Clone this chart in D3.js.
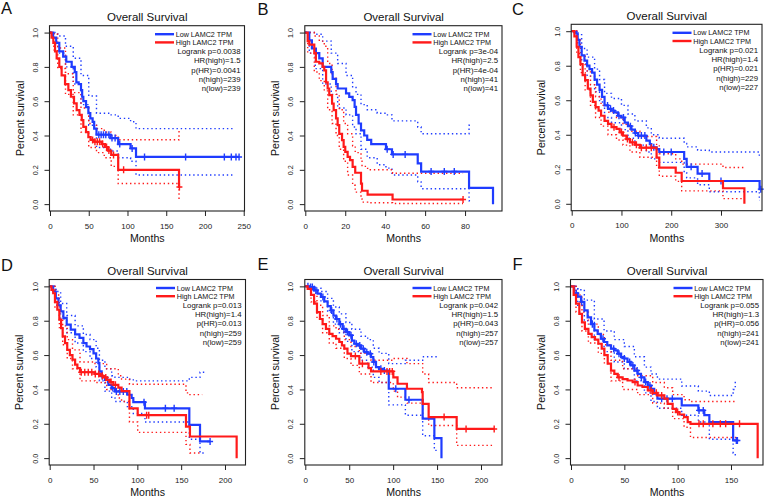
<!DOCTYPE html>
<html><head><meta charset="utf-8">
<script src="https://cdn.jsdelivr.net/npm/d3@7"></script>
<style>body{margin:0;background:#fff} svg{display:block;font-family:"Liberation Sans",Arial,sans-serif}</style>
</head><body><svg id="c" width="767" height="497"></svg>
<script>
// ---------- data ----------
const yTicks = [0, 0.2, 0.4, 0.6, 0.8, 1.0];
const xTicksA = [0, 50, 100, 150, 200, 250];
const xTicksB = [0, 20, 40, 60, 80];
const xTicksC = [0, 100, 200, 300];
const xTicksD = [0, 50, 100, 150, 200];
const xTicksE = [0, 50, 100, 150, 200];
const xTicksF = [0, 50, 100, 150];
const legendLabels = ["Low LAMC2 TPM", "High LAMC2 TPM"];

const statsA = ["Logrank p=0.0038","HR(high)=1.5","p(HR)=0.0041","n(high)=239","n(low)=239"];
const statsB = ["Logrank p=3e-04","HR(high)=2.5","p(HR)=4e-04","n(high)=41","n(low)=41"];
const statsC = ["Logrank p=0.021","HR(high)=1.4","p(HR)=0.021","n(high)=229","n(low)=227"];
const statsD = ["Logrank p=0.013","HR(high)=1.4","p(HR)=0.013","n(high)=259","n(low)=259"];
const statsE = ["Logrank p=0.042","HR(high)=1.5","p(HR)=0.043","n(high)=257","n(low)=257"];
const statsF = ["Logrank p=0.055","HR(high)=1.3","p(HR)=0.056","n(high)=241","n(low)=241"];

// KM steps [month, survival after]
const lowA = [[0,1],[4,0.97],[8,0.94],[12,0.89],[17,0.86],[21,0.83],[28,0.80],[32,0.77],[34,0.71],[37,0.70],[40,0.665],[41.5,0.626],[43,0.60],[46.5,0.566],[49.5,0.53],[52,0.50],[55,0.48],[57,0.44],[60,0.405],[78,0.385],[88,0.35],[104,0.325],[111,0.275],[244,0.275]];
const highA = [[0,1],[2,0.97],[4.3,0.94],[6.5,0.89],[8.6,0.85],[12,0.80],[15,0.75],[19.4,0.70],[23.7,0.665],[27,0.626],[31,0.587],[34.4,0.548],[38,0.52],[41,0.49],[43,0.45],[46.5,0.42],[49.5,0.39],[52.5,0.374],[56,0.364],[67,0.35],[71,0.333],[75,0.312],[79,0.287],[88,0.20],[166.5,0.10],[168,0.10]];
const censLowA = [63,66,69,72,76,80,84,90,106,122,175,225,234,240,244];
const censHighA = [55,58,61,64,68,73,76,82,95,167];
// confidence bands [month, lower, upper]
const ciLowA = [[0,1,1],[5,0.93,1],[10,0.88,0.98],[20,0.80,0.92],[30,0.70,0.85],[40,0.58,0.75],[50,0.46,0.63],[60,0.33,0.53],[78,0.31,0.52],[88,0.27,0.50],[104,0.25,0.48],[111,0.17,0.44],[237,0.17,0.44]];
const ciHighA = [[0,1,1],[5,0.90,0.99],[10,0.79,0.91],[20,0.64,0.76],[30,0.52,0.65],[40,0.42,0.56],[50,0.33,0.47],[60,0.30,0.44],[70,0.27,0.42],[79,0.22,0.40],[88,0.12,0.375],[166.5,0.03,0.43],[167.5,0.03,0.43]];

const lowB = [[0,1],[2,0.955],[3.3,0.907],[5.3,0.88],[7,0.85],[8.7,0.80],[13,0.77],[13.7,0.73],[15.4,0.70],[16.2,0.674],[20.4,0.645],[22,0.625],[23.7,0.606],[24.7,0.567],[25.4,0.52],[26.7,0.47],[27.9,0.43],[29.5,0.40],[31,0.375],[33,0.35],[40.4,0.32],[43.4,0.29],[56.3,0.237],[58,0.19],[82,0.095],[94,0]];
const highB = [[0,1],[1.2,0.95],[2,0.93],[4.5,0.88],[5.3,0.83],[7,0.82],[8.7,0.80],[9.5,0.78],[10.4,0.71],[11.2,0.674],[12,0.635],[13.4,0.586],[14.2,0.548],[15.4,0.50],[16.2,0.46],[17,0.41],[18.4,0.373],[19.2,0.334],[20,0.305],[21.2,0.276],[22.4,0.256],[23.7,0.217],[25,0.183],[27.9,0.12],[28.4,0.078],[31.2,0.056],[43.7,0.027],[79,0.027]];
const censLowB = [41,44,50,63,69.6,74.6];
const censHighB = [79];
const ciLowB = [[0,1,1],[2,0.88,1],[5,0.79,0.99],[8.7,0.70,0.95],[13,0.64,0.88],[16.2,0.56,0.82],[20.4,0.52,0.75],[23.7,0.45,0.68],[25.4,0.41,0.64],[27.9,0.32,0.58],[31,0.27,0.55],[36,0.23,0.53],[40.4,0.21,0.52],[43.4,0.17,0.485],[56.3,0.13,0.45],[58,0.09,0.41],[82,0.02,0.46],[82.5,0.02,0.46]];
const ciHighB = [[0,1,1],[1.2,0.88,1],[4.5,0.77,0.98],[7,0.72,0.95],[9.5,0.66,0.92],[11.2,0.55,0.82],[13.4,0.47,0.74],[15.4,0.40,0.64],[17,0.32,0.55],[19.2,0.25,0.47],[21.2,0.17,0.41],[23.7,0.11,0.34],[25,0.07,0.30],[27.9,0.03,0.25],[28.4,0.012,0.22],[31.2,0.008,0.20],[43.7,0.004,0.18],[79,0.004,0.18]];

const lowC = [[0,1],[5,0.995],[9,0.988],[12,0.95],[15.5,0.91],[20,0.86],[25.6,0.83],[31,0.80],[35.7,0.78],[41,0.76],[46,0.72],[51,0.69],[56,0.66],[61,0.62],[66,0.57],[73,0.55],[80,0.54],[86,0.53],[93,0.51],[100,0.50],[106.5,0.47],[113,0.45],[120,0.43],[127,0.41],[133.5,0.395],[150,0.366],[157,0.346],[160,0.327],[170.6,0.317],[176,0.30],[226,0.26],[231,0.214],[253,0.175],[276.5,0.132],[377.6,0.085],[380,0.085]];
const highC = [[0,1],[5.4,0.97],[10,0.91],[13.5,0.85],[17.5,0.81],[22,0.745],[27,0.716],[32.4,0.667],[37.8,0.628],[42.5,0.59],[48,0.56],[54,0.54],[59,0.51],[66,0.48],[73,0.463],[80,0.444],[90,0.434],[96.4,0.414],[103,0.395],[110,0.375],[117,0.356],[127,0.342],[137,0.325],[170.6,0.268],[176,0.21],[209,0.18],[221,0.132],[304,0.09],[347,0]];
const censLowC = [72,78,84,95,104,118,128,134,140,147,165,185,200,240,262,300,380];
const censHighC = [85,100,112,122,130,140,150,160];
const ciLowC = [[0,1,1],[12,0.91,0.98],[20,0.81,0.90],[31,0.74,0.85],[46,0.65,0.78],[56,0.59,0.72],[66,0.50,0.64],[80,0.47,0.61],[100,0.43,0.57],[113,0.38,0.52],[127,0.34,0.48],[150,0.30,0.44],[160,0.26,0.40],[176,0.24,0.38],[226,0.18,0.35],[231,0.15,0.33],[253,0.11,0.31],[276.5,0.07,0.30],[377,0.02,0.27],[378,0.02,0.27]];
const ciHighC = [[0,1,1],[10,0.87,0.95],[17.5,0.76,0.86],[27,0.66,0.77],[37.8,0.57,0.69],[48,0.50,0.62],[59,0.45,0.57],[73,0.40,0.53],[90,0.37,0.50],[103,0.34,0.46],[117,0.30,0.42],[137,0.27,0.39],[170.6,0.21,0.34],[176,0.16,0.29],[209,0.13,0.26],[221,0.075,0.23],[304,0.03,0.21],[345,0.03,0.21]];

const lowD = [[0,1],[4,0.97],[7,0.93],[10,0.89],[12.5,0.855],[15.6,0.816],[19.4,0.777],[24,0.748],[29,0.72],[34,0.70],[38.4,0.67],[42,0.65],[46,0.635],[50,0.61],[53,0.58],[55.5,0.553],[56.7,0.505],[59.3,0.476],[63,0.456],[67,0.427],[70.7,0.408],[74.5,0.388],[88.6,0.369],[93.5,0.35],[95.4,0.326],[108.7,0.29],[159.3,0.194],[171.5,0.097],[183,0.097]];
const highD = [[0,1],[2,0.98],[4,0.96],[6,0.91],[8.7,0.864],[11,0.806],[13,0.757],[14.8,0.709],[17.5,0.67],[20,0.63],[23,0.60],[26,0.573],[29,0.544],[31.6,0.524],[34.6,0.50],[51.7,0.49],[57.4,0.48],[61,0.47],[65,0.456],[68.8,0.443],[72.6,0.427],[78.3,0.41],[82,0.39],[91,0.29],[100.4,0.25],[155.5,0.184],[160,0.126],[213.3,0]];
const censLowD = [60,66,72,76,80,84,88,107.6,132,142,183];
const censHighD = [36,40,44,48,52,56,60,64,70,75,110.6,113];
const ciLowD = [[0,1,1],[7,0.89,0.97],[12.5,0.81,0.90],[19.4,0.73,0.83],[29,0.67,0.77],[38.4,0.62,0.72],[46,0.58,0.69],[53,0.53,0.64],[56.7,0.45,0.57],[63,0.39,0.52],[70.7,0.35,0.48],[74.5,0.33,0.47],[88.6,0.30,0.46],[95.4,0.26,0.45],[108.7,0.21,0.45],[159.3,0.11,0.47],[171.5,0.03,0.50],[178,0.03,0.50]];
const ciHighD = [[0,1,1],[6,0.87,0.95],[11,0.76,0.86],[14.8,0.66,0.77],[20,0.58,0.69],[26,0.52,0.63],[34.6,0.45,0.56],[51.7,0.44,0.55],[65,0.40,0.52],[78.3,0.35,0.48],[82,0.33,0.46],[91,0.21,0.43],[100.4,0.15,0.43],[155.5,0.08,0.38],[160,0.03,0.37],[174,0.03,0.37]];

const lowE = [[0,1],[4.5,0.996],[10,0.977],[14,0.957],[17.8,0.938],[21.6,0.913],[25.4,0.885],[29,0.86],[32,0.83],[35,0.81],[38.7,0.78],[42.5,0.753],[46.3,0.734],[50,0.715],[53,0.685],[55.8,0.666],[59.6,0.656],[63.4,0.637],[67.2,0.617],[71,0.608],[74.8,0.588],[77.4,0.56],[80.5,0.53],[84,0.52],[88,0.51],[95,0.404],[113.9,0.34],[133.6,0.23],[146.9,0.117],[155,0]];
const highE = [[0,1],[2.7,0.986],[6.5,0.95],[10,0.90],[13.3,0.85],[16.7,0.81],[19.7,0.78],[23.5,0.753],[27.3,0.724],[31,0.71],[35,0.695],[38.7,0.676],[41.7,0.656],[44.4,0.637],[48,0.608],[52,0.594],[61.5,0.55],[72,0.524],[74.8,0.505],[100.2,0.47],[105,0.433],[115.7,0.404],[132.8,0.384],[133.6,0.316],[140.4,0.239],[172.3,0.17],[215,0.17]];
const censLowE = [3,6,8,12,20,30,36,40,44,48,52,58,62,66,70,74,78,86,90,103,118];
const censHighE = [57,65,86,93,96,99,158,183,215];
const ciLowE = [[0,1,1],[10,0.96,0.99],[17.8,0.91,0.97],[25.4,0.85,0.93],[32,0.78,0.88],[38.7,0.73,0.84],[46.3,0.68,0.79],[53,0.62,0.75],[63.4,0.57,0.71],[71,0.53,0.69],[77.4,0.47,0.64],[84,0.44,0.61],[95,0.31,0.55],[113.9,0.25,0.57],[133.6,0.13,0.59],[146.9,0.045,0.59],[150,0.045,0.59]];
const ciHighE = [[0,1,1],[6.5,0.91,0.98],[13.3,0.81,0.89],[19.7,0.73,0.83],[27.3,0.67,0.77],[35,0.64,0.75],[44.4,0.58,0.69],[52,0.54,0.65],[61.5,0.49,0.61],[74.8,0.44,0.57],[100.2,0.39,0.58],[105,0.355,0.58],[115.7,0.32,0.55],[133.6,0.23,0.49],[140.4,0.19,0.44],[172.3,0.074,0.41],[215,0.074,0.41]];

const lowF = [[0,1],[3,0.96],[6.3,0.94],[9.4,0.91],[12.5,0.86],[15.6,0.82],[18.8,0.78],[21.9,0.744],[25,0.724],[28,0.695],[31,0.676],[34,0.656],[37.5,0.637],[40.6,0.627],[43.8,0.608],[47,0.588],[50,0.58],[53,0.56],[56,0.54],[59.4,0.51],[62.5,0.49],[65.6,0.47],[68.8,0.443],[72,0.423],[75,0.404],[78,0.375],[81,0.346],[103.8,0.307],[119.4,0.278],[125,0.25],[129.7,0.21],[152,0.103],[156,0.103]];
const highF = [[0,1],[2.5,0.95],[4.7,0.90],[7.8,0.84],[10.3,0.79],[13,0.753],[16.3,0.724],[19.4,0.705],[22.5,0.69],[25.6,0.666],[28.8,0.637],[31.3,0.60],[34.4,0.55],[37.5,0.51],[40.6,0.49],[43.8,0.47],[48.4,0.46],[53,0.452],[57.8,0.443],[62.5,0.423],[67,0.414],[72,0.394],[76.6,0.38],[81,0.365],[87.5,0.346],[90.6,0.316],[95.3,0.287],[98.4,0.268],[101.6,0.254],[106,0.239],[109.4,0.21],[112,0.20],[175,0]];
const censLowF = [5,10,20,30,40,45,50,55,58,62,66,70,74,85,90,95,120,124,155,156];
const censHighF = [45,60,75,80,85,100,120,124,133,140,145,158];
const ciLowF = [[0,1,1],[6.3,0.89,0.98],[12.5,0.80,0.92],[21.9,0.69,0.81],[31,0.62,0.74],[40.6,0.56,0.69],[50,0.52,0.65],[59.4,0.45,0.59],[68.8,0.38,0.53],[75,0.33,0.49],[81,0.29,0.46],[103.8,0.25,0.42],[119.4,0.21,0.39],[129.7,0.11,0.365],[152,0.03,0.40],[154,0.02,0.45],[155,0.02,0.45]];
const ciHighF = [[0,1,1],[4.7,0.85,0.95],[10.3,0.74,0.85],[16.3,0.67,0.78],[25.6,0.61,0.72],[31.3,0.55,0.66],[37.5,0.45,0.57],[48.4,0.40,0.52],[62.5,0.37,0.48],[76.6,0.32,0.44],[87.5,0.29,0.41],[95.3,0.23,0.37],[106,0.18,0.34],[112,0.12,0.33],[155,0.12,0.33]];

// ---------- layout (positions only) ----------
const panels = [
  {id:"A", low:lowA, high:highA, ciL:ciLowA, ciH:ciHighA, cL:censLowA, cH:censHighA, stats:statsA, ticks:xTicksA, xmax:251,   left:50,    right:244.5, top:25.7,  bottom:211,   lx:1,     ly:14},
  {id:"B", low:lowB, high:highB, ciL:ciLowB, ciH:ciHighB, cL:censLowB, cH:censHighB, stats:statsB, ticks:xTicksB, xmax:98.5,  left:305.3, right:502,   top:25.7,  bottom:211,   lx:257.5, ly:15},
  {id:"C", low:lowC, high:highC, ciL:ciLowC, ciH:ciHighC, cL:censLowC, cH:censHighC, stats:statsC, ticks:xTicksC, xmax:382.4, left:571.7, right:762,   top:24.3,  bottom:210.7, lx:512,   ly:15},
  {id:"D", low:lowD, high:highD, ciL:ciLowD, ciH:ciHighD, cL:censLowD, cH:censHighD, stats:statsD, ticks:xTicksD, xmax:223.4, left:49.7,  right:245.5, top:279.5, bottom:465,   lx:1,     ly:270.5},
  {id:"E", low:lowE, high:highE, ciL:ciLowE, ciH:ciHighE, cL:censLowE, cH:censHighE, stats:statsE, ticks:xTicksE, xmax:223.9, left:305.3, right:502,   top:279.5, bottom:465,   lx:257.5, ly:269.5},
  {id:"F", low:lowF, high:highF, ciL:ciLowF, ciH:ciHighF, cL:censLowF, cH:censHighF, stats:statsF, ticks:xTicksF, xmax:180,   left:571,   right:763,   top:279.5, bottom:465,   lx:512.5, ly:269.5}
];

const BLUE = "#1f3cff", RED = "#ff1a1a";
const svg = d3.select("#c");

function survAt(curve, t) {
  let s = curve[0][1];
  for (const d of curve) { if (d[0] <= t) s = d[1]; else break; }
  return s;
}

panels.forEach(p => {
  const x = d3.scaleLinear().domain([0, p.xmax]).range([p.left, p.right]);
  const y = d3.scaleLinear().domain([-0.04, 1.04]).range([p.bottom, p.top]);
  const g = svg.append("g");
  const step = d3.line().x(d => x(d[0])).y(d => y(d[1])).curve(d3.curveStepAfter);

  // panel letter
  svg.append("text").attr("x", p.lx).attr("y", p.ly).attr("font-size", 16.5).attr("fill", "#111").text(p.id);

  // title
  g.append("text").attr("x", (p.left + p.right) / 2).attr("y", p.top - 4.3)
    .attr("text-anchor", "middle").attr("font-size", 11.5).attr("fill", "#111").text("Overall Survival");

  // confidence bands (dotted)
  [[p.ciL, BLUE], [p.ciH, RED]].forEach(([ci, col]) => {
    [1, 2].forEach(k => {
      g.append("path").attr("d", step(ci.map(d => [d[0], d[k]])))
        .attr("fill", "none").attr("stroke", col).attr("stroke-width", 1.4)
        .attr("stroke-dasharray", "1.4,2.8");
    });
  });

  // KM curves
  [[p.low, p.cL, BLUE], [p.high, p.cH, RED]].forEach(([curve, cens, col]) => {
    g.append("path").attr("d", step(curve)).attr("fill", "none")
      .attr("stroke", col).attr("stroke-width", 2.2);
    g.selectAll(null).data(cens).enter().append("path")
      .attr("d", c => {
        const cx = x(c), cy = y(survAt(curve, c));
        return `M${cx - 3},${cy}H${cx + 3}M${cx},${cy - 3.5}V${cy + 3.5}`;
      })
      .attr("stroke", col).attr("stroke-width", 1.4).attr("fill", "none");
  });

  // box
  g.append("rect").attr("x", p.left - 0.5).attr("y", p.top).attr("width", p.right - p.left + 0.5)
    .attr("height", p.bottom - p.top).attr("fill", "none").attr("stroke", "#222").attr("stroke-width", 1.1);

  // x axis
  const xa = g.append("g").attr("transform", `translate(0,${p.bottom})`)
    .call(d3.axisBottom(x).tickValues(p.ticks).tickSize(5).tickFormat(d3.format("d")));
  xa.select(".domain").remove();
  xa.selectAll(".tick line").attr("stroke", "#222");
  xa.selectAll(".tick text").attr("y", 17.5).attr("dy", 0).attr("font-size", 8)
    .attr("font-family", '"Liberation Sans",Arial,sans-serif').attr("fill", "#222");

  // y axis
  const ya = g.append("g").attr("transform", `translate(${p.left - 0.5},0)`)
    .call(d3.axisLeft(y).tickValues(yTicks).tickSize(5).tickFormat(d3.format(".1f")));
  ya.select(".domain").remove();
  ya.selectAll(".tick line").attr("stroke", "#222");
  ya.selectAll(".tick text").attr("x", 0).attr("y", -11.5).attr("dy", 0)
    .attr("transform", "rotate(-90)").attr("text-anchor", "middle").attr("font-size", 7.2)
    .attr("font-family", '"Liberation Sans",Arial,sans-serif').attr("fill", "#222");

  // axis titles
  g.append("text").attr("x", (p.left + p.right) / 2).attr("y", p.bottom + 31)
    .attr("text-anchor", "middle").attr("font-size", 10.6).attr("fill", "#111").text("Months");
  const yc = (y(0) + y(1)) / 2;
  g.append("text").attr("transform", `translate(${p.left - 26.5},${yc}) rotate(-90)`)
    .attr("text-anchor", "middle").attr("font-size", 10.6).attr("fill", "#111").text("Percent survival");

  // legend
  const R = p.right;
  [BLUE, RED].forEach((col, i) => {
    const ly = p.top + 8.5 + i * 8.2;
    g.append("line").attr("x1", R - 89.5).attr("x2", R - 70.5).attr("y1", ly).attr("y2", ly)
      .attr("stroke", col).attr("stroke-width", 2.4);
    g.append("text").attr("x", R - 68.8).attr("y", ly + 2.6).attr("font-size", 7.2)
      .attr("fill", "#111").text(legendLabels[i]);
  });
  p.stats.forEach((s, i) => {
    g.append("text").attr("x", R - 4).attr("y", p.top + 25.3 + i * 9.35 + 2.9)
      .attr("text-anchor", "end").attr("font-size", 7.8).attr("fill", "#111").text(s);
  });
});
</script></body></html>
